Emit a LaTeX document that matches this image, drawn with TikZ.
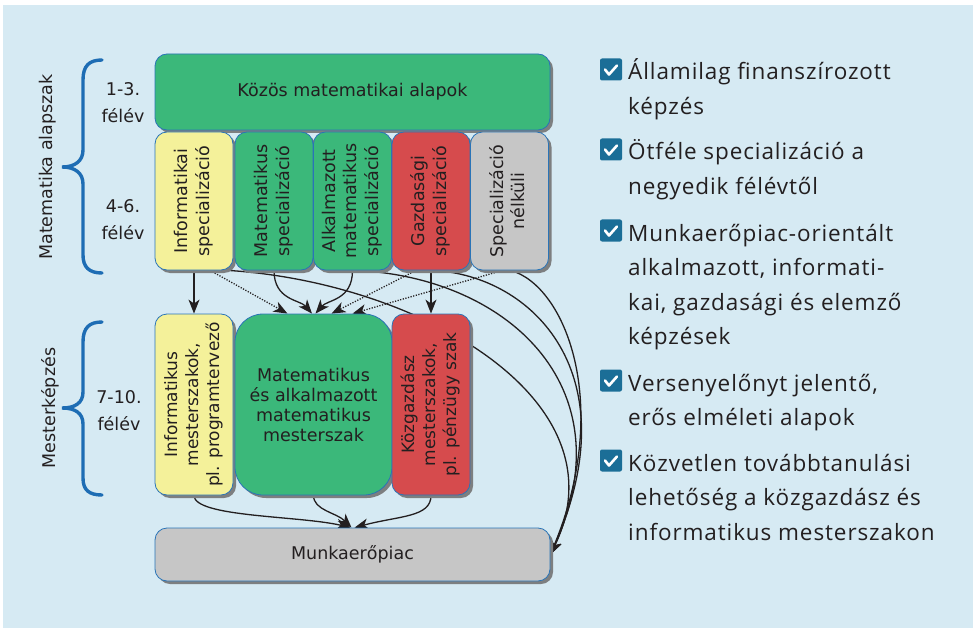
\documentclass[tikz,border=0pt]{standalone}
\usepackage{fontspec}
\setmainfont{Open Sans}[LetterSpace=4]
\newfontfamily\diagfont{DejaVu Sans}
\usetikzlibrary{arrows.meta,shadows}
\definecolor{bgblue}{HTML}{D6EAF3}
\definecolor{cgreen}{HTML}{3BB87A}
\definecolor{cyellow}{HTML}{F4F19A}
\definecolor{cred}{HTML}{D64B4D}
\definecolor{cgray}{HTML}{C6C6C6}
\definecolor{boxline}{HTML}{2A74B7}
\definecolor{shadowc}{HTML}{7D7F80}
\definecolor{bracec}{HTML}{1E6DB4}
\definecolor{chkc}{HTML}{1B6E97}
\definecolor{ink}{HTML}{231F20}
\pgfdeclarelayer{bg}
\pgfdeclarelayer{conn}
\pgfsetlayers{bg,conn,main}
\newcommand\rotlines[1]{\rotatebox{90}{\begin{tabular}{@{}c@{}}#1\end{tabular}}}
\newcommand\itemtext[1]{\parbox[t]{345pt}{\fontsize{22.5}{34.5}\selectfont\raggedright #1}}
\begin{document}
\begin{tikzpicture}[x=1pt,y=-1pt,
  box/.style={draw=boxline, line width=0.8pt, rounded corners=12pt, inner sep=0pt,
    drop shadow={shadow xshift=3pt, shadow yshift=-3pt, fill=shadowc, opacity=1},
    text=ink, font={\diagfont\fontsize{17.5}{21.5}\selectfont}},
  spec/.style={box, minimum width=78pt, minimum height=138pt},
  mast/.style={box, minimum width=78pt, minimum height=181pt},
  side/.style={text=ink, inner sep=0pt, font={\diagfont\fontsize{17.5}{27}\selectfont}, align=center},
  brace/.style={draw=bracec, line width=3.4pt, line cap=round},
  conn/.style={draw=ink, line width=1.3pt, -{Stealth[length=14pt,width=11pt,inset=4pt]}},
  dotc/.style={dash pattern=on 1.2pt off 1.5pt},
  chk/.style={fill=chkc, rounded corners=2pt, minimum size=22pt, inner sep=0pt},
  tick/.style={draw=white, line width=2.6pt, line cap=round, line join=round},
  item/.style={anchor=base west, inner sep=0pt, text=ink}
]
\useasboundingbox (0,0) rectangle (973,628);
\begin{pgfonlayer}{bg}
\fill[white] (0,0) rectangle (973,628);
\fill[bgblue] (3,5) rectangle (973,628);
\end{pgfonlayer}

% boxes
\node[box, fill=cgreen, minimum width=395pt, minimum height=76pt] (top) at (352.5,92) {Közös matematikai alapok};
\node[spec, fill=cyellow] (s1) at (194,201) {\rotlines{Informatikai\\specializáció}};
\node[spec, fill=cgreen] (s2) at (274,201) {\rotlines{Matematikus\\specializáció}};
\node[spec, fill=cgreen] (s3) at (352.5,201) {\rotlines{Alkalmazott\\matematikus\\specializáció}};
\node[spec, fill=cred] (s4) at (431,201) {\rotlines{Gazdasági\\specializáció}};
\node[spec, fill=cgray] (s5) at (509.5,201) {\rotlines{Specializáció\\nélküli}};
\node[mast, fill=cyellow, font={\diagfont\fontsize{17}{21}\selectfont}] (m1) at (194,404.5) {\rotlines{Informatikus\\mesterszakok,\\pl. programtervező}};
\node[mast, fill=cgreen, minimum width=157pt, rounded corners=28pt, align=center, font={\diagfont\fontsize{17.5}{20}\selectfont}] (m2) at (313.5,404.5) {Matematikus\\és alkalmazott\\matematikus\\mesterszak};
\node[mast, fill=cred, font={\diagfont\fontsize{17}{21}\selectfont}] (m3) at (431,404.5) {\rotlines{Közgazdász\\mesterszakok,\\pl. pénzügy szak}};
\node[box, fill=cgray, minimum width=395pt, minimum height=53pt] (mp) at (352.5,554.5) {Munkaerőpiac};

% connectors
\begin{pgfonlayer}{conn}
\draw[conn] (s1.south) -- (m1.north);
\draw[conn, dotc] ([xshift=16pt]s1.south) -- ([xshift=-26pt]m2.north);
\draw[conn] (s2.south) .. controls +(0,30) and +(-12,-14) .. ([xshift=-1.5pt]m2.north);
\draw[conn] (s3.south) .. controls +(0,30) and +(12,-14) .. ([xshift=2pt]m2.north);
\draw[conn, dotc] ([xshift=-15pt]s4.south) -- ([xshift=18pt]m2.north);
\draw[conn, dotc] ([xshift=-7pt]s5.south) -- ([xshift=39pt]m2.north);
\draw[conn] (s4.south) -- (m3.north);
\draw[conn] ([xshift=34pt]s1.south) .. controls +(192,12) and +(75,-154) .. (mp.east);
\draw[conn] ([xshift=1pt]s3.south) .. controls +(150,5) and +(78,-170) .. (mp.east);
\draw[conn] ([xshift=2pt]s4.south) .. controls +(100,5) and +(80,-180) .. (mp.east);
\draw[conn] ([xshift=1pt]s5.south) .. controls +(55,15) and +(62,-150) .. (mp.east);
\draw[conn] (m1.south) .. controls +(0,22) and +(-50,-12) .. ([xshift=-2pt]mp.north);
\draw[conn] (m2.south) .. controls +(0,15) and +(-15,-15) .. ([xshift=-1pt]mp.north);
\draw[conn] (m3.south) .. controls +(0,22) and +(45,-12) .. ([xshift=2pt]mp.north);
\end{pgfonlayer}

% braces and side labels
\draw[brace] (102,60) .. controls (89,60) and (83,66) .. (83,80) -- (83,150)
  .. controls (83,161) and (75,167) .. (62,167)
  .. controls (75,167) and (83,173) .. (83,184) -- (83,255)
  .. controls (83,267) and (89,273) .. (102,273);
\draw[brace] (102,322) .. controls (89,322) and (83,328) .. (83,342) -- (83,392)
  .. controls (83,403) and (75,408) .. (62,408)
  .. controls (75,408) and (83,413) .. (83,424) -- (83,478)
  .. controls (83,490) and (89,495) .. (102,495);
\node[side, rotate=90] (lab1) at (48,167) {Matematika alapszak};
\node[side, rotate=90] (lab2) at (50,408) {Mesterképzés};
\node[side] (f1) at (123,103) {1-3.\\félév};
\node[side] (f2) at (123,220) {4-6.\\félév};
\node[side] (f3) at (119,411) {7-10.\\félév};

% right list
\foreach \i/\y/\t in {1/80/{Államilag finanszírozott\\képzés},
  2/160/{Ötféle specializáció a\\negyedik félévtől},
  3/241/{Munkaerőpiac-orientált\\alkalmazott, informati-\\kai, gazdasági és elemző\\képzések},
  4/391/{Versenyelőnyt jelentő,\\erős elméleti alapok},
  5/471/{Közvetlen továbbtanulási\\lehetőség a közgazdász és\\informatikus mesterszakon}}{
  \node[chk] (c\i) at (611,\y-10.5) {};
  \draw[tick] ([shift={(-6,0)}]c\i.center) -- ++(4,5) -- ++(8,-9);
  \node[item] (t\i) at (628,\y) {\itemtext{\t}};
}
\end{tikzpicture}
\end{document}
